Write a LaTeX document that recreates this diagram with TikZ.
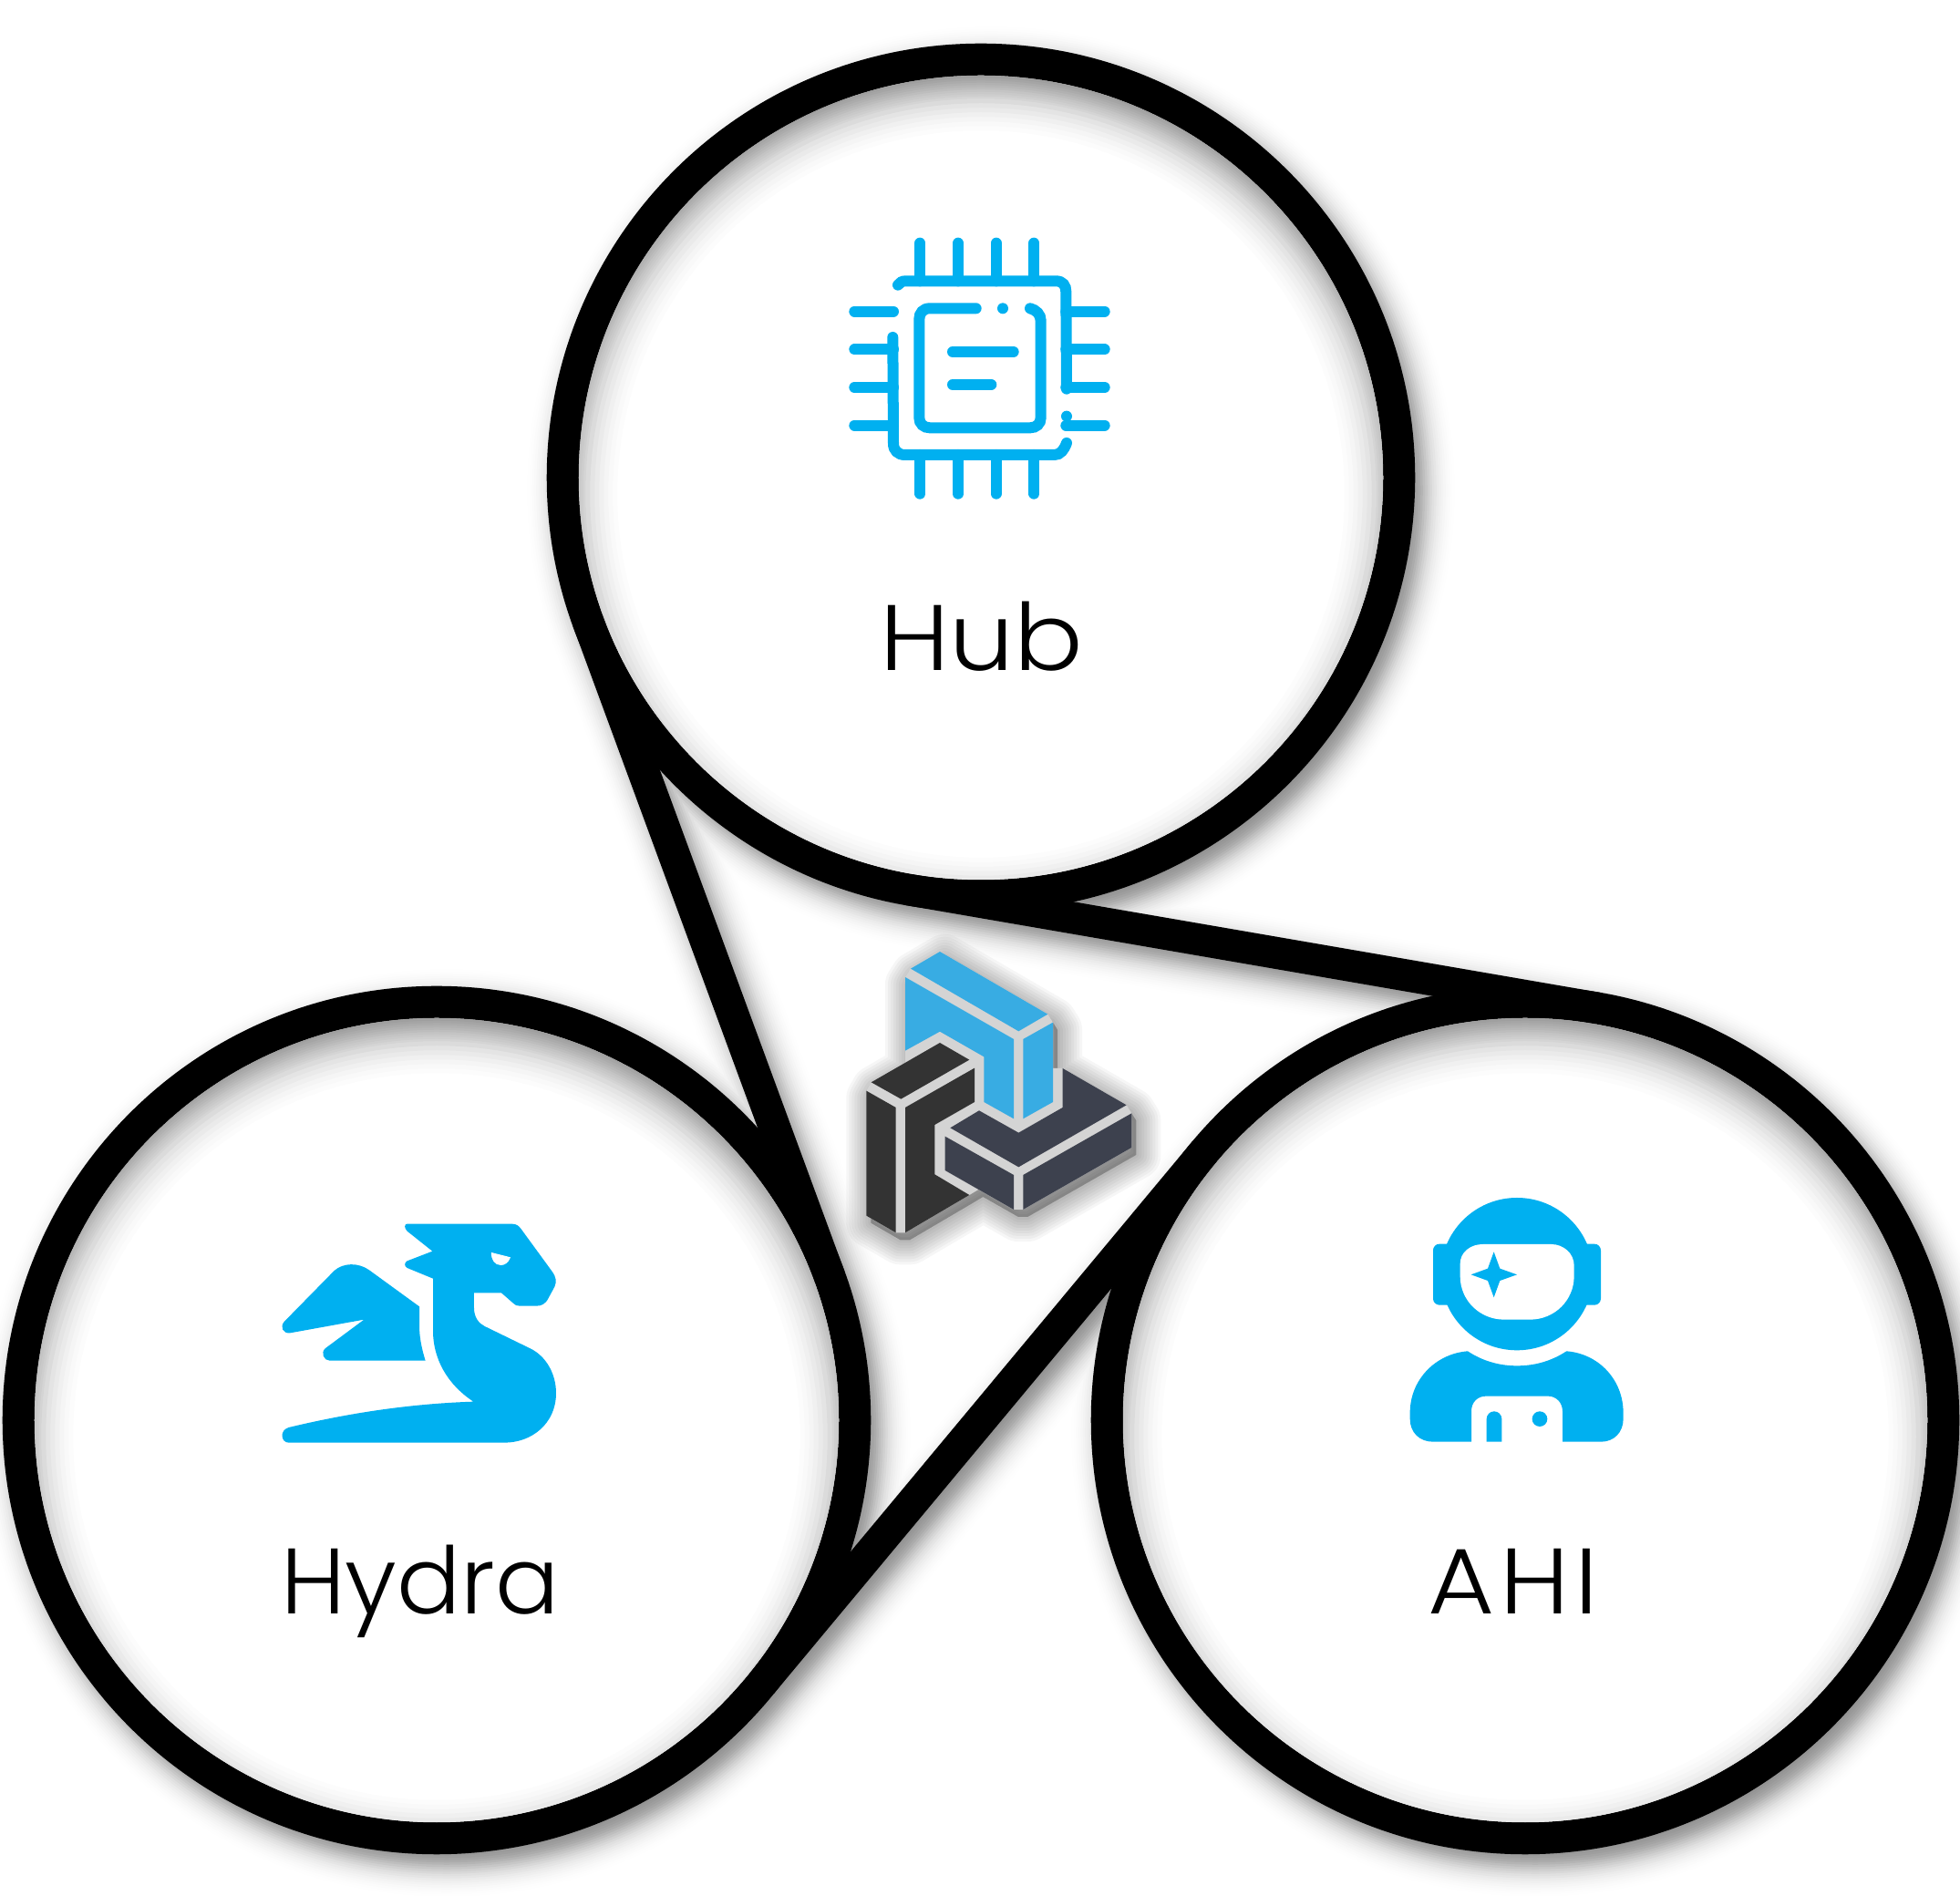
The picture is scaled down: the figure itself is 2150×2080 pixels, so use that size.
\documentclass[tikz,border=0pt]{standalone}
\usepackage{fontspec}
\usepackage{xcolor}
\setmainfont{Poppins Light}
\usetikzlibrary{calc, positioning}

\definecolor{iconblue}{HTML}{00B0F0}
\definecolor{logoblue}{HTML}{38ACE3}
\definecolor{logodark}{HTML}{333333}
\definecolor{logoslate}{HTML}{3D414E}
\definecolor{logogap}{HTML}{D4D4D4}

\newcommand{\logohull}{(279,156) -- (297,128) -- (393,72) -- (748,278) -- (765,305) -- (765,456) -- (797,456) -- (1007,577) -- (1024,604) -- (1024,717) -- (667,921) -- (636,921) -- (520,855) -- (490,873) -- (279,997) -- (248,997) -- (151,941) -- (151,530) -- (167,502) -- (279,437) -- cycle}

\begin{document}
\begin{tikzpicture}[
    x=0.01cm,
    y=-0.01cm,
    % Styles for the rings and the marks
    ring/.style={circle, draw=black, line width=0.35cm, outer sep=0pt, inner sep=0pt, minimum size=9.17cm},
    belt/.style={draw=black, line width=0.35cm},
    wire/.style={draw=iconblue, line width=0.12cm, line cap=round},
    caption/.style={anchor=base, font=\fontsize{29}{29}\selectfont, text=black}
]
    \useasboundingbox (0,0) rectangle (2150,2080);

    % 1. The three rings
    \node[ring] (hub) at (1076,524) {};
    \node[ring] (hydra) at (479,1558) {};
    \node[ring] (ahi) at (1673,1558) {};

    % 2. The belts between the rings
    \draw[belt] (hub.200.18) -- (hydra.20.18);
    \draw[belt] (hydra.-39.82) -- (ahi.140.18);
    \draw[belt] (ahi.80.18) -- (hub.260.18);

    % Soft shade of rings and belts
    \foreach \wd/\op in {1.00/.005,.95/.005,.90/.006,.85/.006,.80/.01,.75/.01,.70/.017,.65/.017,.60/.025,.55/.025,.50/.037,.45/.037,.40/.044,.35/.044,.30/.05,.25/.05,.20/.04,.15/.04,.10/.03,.05/.03} {
        \draw[black, draw opacity=\op, line width=\wd cm, transform canvas={shift={(11,14)}}]
            (hub.center) circle (4.585cm) (hydra.center) circle (4.585cm) (ahi.center) circle (4.585cm)
            (hub.200.18) -- (hydra.20.18) (hydra.-39.82) -- (ahi.140.18) (ahi.80.18) -- (hub.260.18);
    }
    % The shade inside each ring is softer
    \foreach \rname in {hub,hydra,ahi} {
        \fill[white] (\rname.center) circle (4.41cm);
        \begin{scope}
            \clip (\rname.center) circle (4.41cm);
            \foreach \wd/\op in {1.2/.01,1.1/.012,1.0/.015,.9/.018,.8/.022,.7/.025,.6/.035,.5/.028,.45/.028,.4/.025,.35/.025,.3/.03,.25/.03,.2/.03,.15/.03,.1/.03,.05/.03} {
                \draw[black, draw opacity=\op, line width=\wd cm, transform canvas={shift={(0,18)}}] (\rname.center) circle (4.585cm);
            }
        \end{scope}
    }

    % 3. The captions
    \node[caption] (hublabel) at (1077,736) {\scalebox{1.1}[1]{Hub}};
    \node[caption] (hydralabel) at (461,1771) {\scalebox{1.02}[1]{Hydra}};
    \node[caption] (ahilabel) at (1660,1771) {\scalebox{1.1}[1]{\addfontfeature{LetterSpace=5}AHI}};

    % 4. The chip
    \begin{scope}[shift={(900,230)}, scale=1/3]
        \foreach \px in {328,453,578,703} {
            \draw[wire] (\px,110) -- (\px,235);
            \draw[wire] (\px,807) -- (\px,935);
        }
        \foreach \py in {335,460,585,710} {
            \draw[wire] (112,\py) -- (240,\py);
            \draw[wire] (808,\py) -- (935,\py);
        }
        \draw[wire] (255,248) .. controls (262,240) and (268,235) .. (280,235) -- (775,235)
            .. controls (798,235) and (808,250) .. (808,270) -- (810,590);
        \draw[wire] (238,420) -- (240,770) .. controls (240,792) and (255,807) .. (278,807) -- (770,807)
            .. controls (790,807) and (802,790) .. (810,768);
        \draw[wire] (512,325) -- (360,325) .. controls (338,325) and (325,340) .. (325,360) -- (325,685)
            .. controls (325,705) and (340,718) .. (360,718) -- (690,718)
            .. controls (710,718) and (725,705) .. (725,685) -- (725,365)
            .. controls (725,345) and (710,330) .. (690,325);
        \draw[wire] (435,468) -- (635,468);
        \draw[wire] (435,576) -- (562,576);
        \fill[iconblue] (600,325) circle (18);
        \fill[iconblue] (810,680) circle (18);
    \end{scope}

    % 5. The dragon
    \begin{scope}[shift={(290,1320)}, scale=1/3]
        \fill[iconblue] (470,68) -- (815,68) .. controls (830,68) and (838,75) .. (845,85) -- (945,222)
            .. controls (962,245) and (962,258) .. (955,275) -- (935,312)
            .. controls (925,332) and (912,338) .. (895,338) -- (840,338)
            .. controls (830,338) and (825,335) .. (820,330) -- (780,295) -- (690,295) -- (690,345)
            .. controls (690,375) and (705,395) .. (725,405) -- (875,478)
            .. controls (930,505) and (960,565) .. (960,625)
            .. controls (960,725) and (880,788) .. (790,788) -- (80,788)
            .. controls (55,788) and (48,748) .. (80,738)
            .. controls (280,690) and (480,660) .. (688,653)
            .. controls (600,595) and (555,510) .. (555,420) -- (555,248) -- (470,213)
            .. controls (460,208) and (460,195) .. (470,190) -- (553,158) -- (470,92)
            .. controls (460,82) and (460,68) .. (470,68) -- cycle;
        \fill[white] (747,162) -- (810,178) .. controls (802,198) and (790,204) .. (778,204)
            .. controls (758,204) and (745,185) .. (747,162) -- cycle;
        \fill[iconblue] (510,340) -- (345,220) .. controls (310,195) and (260,195) .. (230,222) -- (65,390)
            .. controls (50,408) and (62,430) .. (85,427) -- (328,383) -- (200,478)
            .. controls (185,492) and (195,518) .. (215,518) -- (530,518)
            .. controls (515,470) and (510,435) .. (510,400) -- cycle;
    \end{scope}

    % 6. The astronaut
    \begin{scope}[shift={(1530,1290)}, scale=1/3]
        \fill[iconblue] (402,323) circle (251);
        \fill[iconblue, rounded corners=0.07cm] (126,224) rectangle (678,425);
        \fill[white] (215,290) .. controls (215,250) and (250,225) .. (290,225) -- (515,225)
            .. controls (555,225) and (590,255) .. (590,295) -- (590,330)
            .. controls (590,410) and (525,473) .. (445,473) -- (360,473)
            .. controls (280,473) and (215,410) .. (215,330) -- cycle;
        \fill[iconblue] (326,250) -- (346,305) -- (402,325) -- (346,345) -- (326,400) -- (306,345)
            -- (251,325) -- (306,305) -- cycle;
        \fill[iconblue] (240,577) .. controls (290,610) and (345,625) .. (402,625)
            .. controls (460,625) and (515,610) .. (565,577)
            .. controls (670,585) and (752,670) .. (752,780) -- (752,800)
            .. controls (752,845) and (720,875) .. (680,875) -- (552,875) -- (552,775)
            .. controls (552,745) and (530,725) .. (505,725) -- (300,725)
            .. controls (272,725) and (252,745) .. (252,775) -- (252,875) -- (125,875)
            .. controls (82,875) and (50,845) .. (50,800) -- (50,780)
            .. controls (50,670) and (135,585) .. (240,577) -- cycle;
        \fill[iconblue] (302,875) -- (302,800) arc (180:360:25) -- (352,875) -- cycle;
        \fill[iconblue] (477,800) circle (25);
    \end{scope}

    % 7. The logo in the middle
    \begin{scope}[shift={(900,1020)}, scale=1/3]
        \foreach \wd in {0.06,0.12,...,0.54} {
            \filldraw[black, opacity=0.035, line width=\wd cm, line join=round, transform canvas={shift={(5,8)}}] \logohull;
        }
        \fill[logogap] \logohull;
        \fill[logoblue] (297,128) -- (393,72) -- (748,278) -- (652,334) -- cycle;
        \fill[logoblue] (279,156) -- (636,360) -- (636,622) -- (538,567) -- (538,418) -- (393,335) -- (279,398) -- cycle;
        \fill[logoblue] (667,360) -- (765,305) -- (765,567) -- (667,622) -- cycle;
        \fill[logodark] (167,502) -- (393,372) -- (490,428) -- (265,557) -- cycle;
        \fill[logodark] (151,530) -- (248,585) -- (248,997) -- (151,941) -- cycle;
        \fill[logodark] (279,585) -- (507,455) -- (507,567) -- (376,642) -- (376,805) -- (490,873) -- (279,997) -- cycle;
        \fill[logoslate] (797,456) -- (1007,577) -- (652,781) -- (427,652) -- (522,595) -- (652,668) -- (797,585) -- cycle;
        \fill[logoslate] (410,680) -- (636,807) -- (636,921) -- (410,792) -- cycle;
        \fill[logoslate] (667,807) -- (1024,604) -- (1024,717) -- (667,921) -- cycle;
    \end{scope}
\end{tikzpicture}
\end{document}
